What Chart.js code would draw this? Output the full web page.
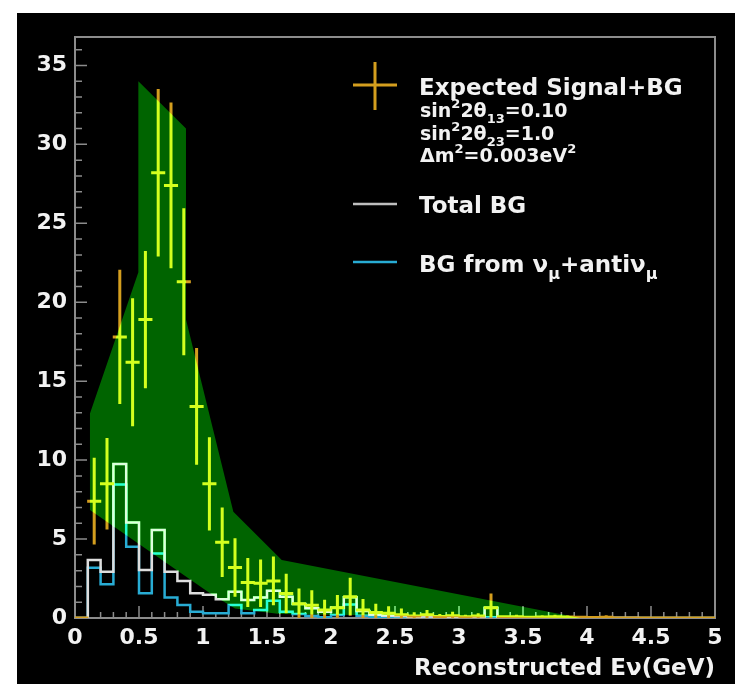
<!DOCTYPE html>
<html>
<head>
<meta charset="utf-8">
<script src="https://cdn.jsdelivr.net/npm/chart.js@4.4.1/dist/chart.umd.min.js"></script>
<style>
  html, body { margin: 0; background: #fff; }
</style>
</head>
<body>
<canvas id="spectrum" width="742" height="684"></canvas>
<script>
// bins of 0.1 GeV from 0 to 5 GeV
const BIN_WIDTH = 0.1;
const X_MAX = 5;
const Y_MAX = 36.8;

// Expected signal + BG (points with error bars), one value per bin
const signal = [0, 7.4, 8.5, 17.8, 16.2, 18.9, 28.2, 27.4, 21.3, 13.4,
  8.5, 4.8, 3.2, 2.25, 2.2, 2.35, 1.55, 0.9, 0.8, 0.5,
  0.65, 1.35, 0.5, 0.35, 0.3, 0.2, 0.12, 0.2, 0.1, 0.15,
  0.08, 0.12, 0.65, 0.08, 0.08, 0.05, 0.06, 0.08, 0.06, 0.05,
  0.03, 0.05, 0, 0, 0, 0, 0, 0, 0, 0];
const signalErr = [0, 2.75, 2.9, 4.25, 4.05, 4.35, 5.3, 5.25, 4.65, 3.7,
  2.95, 2.2, 1.85, 1.55, 1.5, 1.55, 1.25, 0.97, 0.95, 0.65,
  0.8, 1.2, 0.7, 0.55, 0.45, 0.4, 0.25, 0.3, 0.15, 0.25,
  0.12, 0.18, 0.9, 0.1, 0.12, 0.1, 0.12, 0.12, 0.12, 0.1,
  0.06, 0.12, 0, 0, 0, 0, 0, 0, 0, 0];

// Total BG histogram
const totalBG = [0, 3.67, 2.93, 9.75, 6.05, 3.04, 5.57, 2.93, 2.34, 1.56,
  1.48, 1.18, 1.67, 1.14, 1.3, 1.73, 1.35, 0.89, 0.61, 0.4,
  0.65, 1.31, 0.44, 0.2, 0.15, 0.12, 0.08, 0.1, 0.06, 0.08,
  0.05, 0.06, 0.65, 0.04, 0.04, 0.03, 0.03, 0.02, 0.02, 0.02,
  0.01, 0.01, 0.01, 0.01, 0, 0, 0, 0, 0, 0];

// BG from numu + anti-numu histogram
const numuBG = [0, 3.18, 2.13, 8.46, 4.51, 1.56, 4.09, 1.3, 0.82, 0.4,
  0.3, 0.3, 0.83, 0.3, 0.5, 1.1, 0.4, 0.25, 0.13, 0.05,
  0.19, 0.86, 0.15, 0.04, 0.03, 0.03, 0.02, 0.02, 0.02, 0.02,
  0.01, 0.01, 0.05, 0.01, 0.01, 0.01, 0, 0, 0, 0,
  0, 0, 0, 0, 0, 0, 0, 0, 0, 0];

// green uncertainty band outline (closed polygon)
const bandX = [0.117, 0.495, 0.495, 0.867, 0.867, 1.237, 1.615, 3.95, 1.6, 1.25, 1.055, 0.117, 0.117];
const bandY = [12.95, 21.9, 34.0, 31.0, 18.9, 6.73, 3.67, 0, 0.25, 0.6, 1.56, 6.84, 12.95];

const BAND_GREEN = 'rgb(0,100,0)';
const GOLD = 'rgb(212,158,30)';
const WHITE_LINE = 'rgb(222,222,222)';
const CYAN = 'rgb(40,172,212)';
const FRAME = 'rgb(140,140,140)';
const TEXT = '#f2f2f2';
const FONT = '"DejaVu Sans", sans-serif';

// error bar segments, separated by gaps
const barPts = [];
signal.forEach((v, i) => {
  const c = (i + 0.5) * BIN_WIDTH;
  const e = signalErr[i];
  if (e > 0) barPts.push({x: c, y: v - e}, {x: c, y: v + e}, {x: c, y: null});
  barPts.push({x: c - 0.055, y: v}, {x: c + 0.055, y: v}, {x: c, y: null});
});

function histPoints(vals) {
  const pts = vals.map((v, i) => ({x: i * BIN_WIDTH, y: v}));
  pts.push({x: X_MAX, y: vals[vals.length - 1]});
  return pts;
}

const bandPts = bandX.map((x, i) => ({x: x, y: bandY[i]}));

const pagePlugin = {
  id: 'page',
  beforeDraw(chart) {
    const ctx = chart.ctx;
    ctx.save();
    ctx.fillStyle = '#fff';
    ctx.fillRect(0, 0, chart.width, chart.height);
    ctx.fillStyle = '#000';
    ctx.fillRect(17, 13, 718, chart.height - 13);
    ctx.restore();
  },
  beforeDatasetsDraw(chart) {
    const ctx = chart.ctx, a = chart.chartArea;
    const xs = chart.scales.x, ys = chart.scales.y;
    ctx.save();
    ctx.strokeStyle = FRAME;
    ctx.lineWidth = 2;
    ctx.strokeRect(a.left, a.top, a.right - a.left, a.bottom - a.top);
    ctx.lineWidth = 1.5;
    ctx.beginPath();
    for (let k = 0; k <= 50; k++) {
      const px = xs.getPixelForValue(k * 0.1);
      ctx.moveTo(px, a.bottom);
      ctx.lineTo(px, a.bottom - (k % 5 === 0 ? 12 : 6));
    }
    for (let k = 0; k <= Math.floor(Y_MAX); k++) {
      const py = ys.getPixelForValue(k);
      ctx.moveTo(a.left, py);
      ctx.lineTo(a.left + (k % 5 === 0 ? 12 : 7), py);
    }
    ctx.stroke();
    ctx.restore();
  },
  // the band is laid on top additively
  afterDatasetDraw(chart, args) {
    if (args.index === 1) {
      chart.ctx.save();
      chart.ctx.globalCompositeOperation = 'lighter';
    }
    if (args.index === 0) chart.ctx.restore();
  },
  afterDraw(chart) {
    const ctx = chart.ctx;
    ctx.save();
    ctx.lineCap = 'butt';
    ctx.strokeStyle = GOLD;
    ctx.lineWidth = 3;
    ctx.beginPath();
    ctx.moveTo(353, 85); ctx.lineTo(397, 85);
    ctx.moveTo(375, 62); ctx.lineTo(375, 110);
    ctx.stroke();
    ctx.lineWidth = 2.5;
    ctx.strokeStyle = 'rgb(190,190,190)';
    ctx.beginPath(); ctx.moveTo(353, 204); ctx.lineTo(397, 204); ctx.stroke();
    ctx.strokeStyle = CYAN;
    ctx.beginPath(); ctx.moveTo(353, 262); ctx.lineTo(397, 262); ctx.stroke();

    ctx.fillStyle = TEXT;
    ctx.textBaseline = 'alphabetic';
    ctx.textAlign = 'left';
    const rich = (x, y, size, parts) => {
      parts.forEach(p => {
        const small = p.sub || p.sup;
        const s = small ? Math.round(size * 0.68) : size;
        ctx.font = 'bold ' + s + 'px ' + FONT;
        const dy = p.sup ? -size * 0.45 : (p.sub ? size * 0.32 : 0);
        ctx.fillText(p.t, x, y + dy);
        x += ctx.measureText(p.t).width;
      });
    };
    rich(419, 95, 23, [{t: 'Expected Signal+BG'}]);
    rich(420, 117, 19, [{t: 'sin'}, {t: '2', sup: true}, {t: '2θ'}, {t: '13', sub: true}, {t: '=0.10'}]);
    rich(420, 140, 19, [{t: 'sin'}, {t: '2', sup: true}, {t: '2θ'}, {t: '23', sub: true}, {t: '=1.0'}]);
    rich(420, 162, 19, [{t: 'Δm'}, {t: '2', sup: true}, {t: '=0.003eV'}, {t: '2', sup: true}]);
    rich(419, 213, 23, [{t: 'Total BG'}]);
    rich(419, 272, 23, [{t: 'BG from ν'}, {t: 'μ', sub: true}, {t: '+antiν'}, {t: 'μ', sub: true}]);
    ctx.restore();
  }
};

new Chart(document.getElementById('spectrum'), {
  type: 'scatter',
  data: {
    datasets: [
      {
        label: 'band',
        data: bandPts,
        showLine: true,
        fill: 'shape',
        backgroundColor: BAND_GREEN,
        borderWidth: 0,
        pointRadius: 0,
        order: 0
      },
      {
        label: 'Expected Signal+BG',
        data: barPts,
        showLine: true,
        borderColor: GOLD,
        borderWidth: 3,
        borderCapStyle: 'butt',
        pointRadius: 0,
        spanGaps: false,
        order: 1
      },
      {
        label: 'Total BG',
        data: histPoints(totalBG),
        showLine: true,
        stepped: true,
        borderColor: WHITE_LINE,
        borderWidth: 2.5,
        pointRadius: 0,
        order: 2
      },
      {
        label: 'BG from numu+antinumu',
        data: histPoints(numuBG),
        showLine: true,
        stepped: true,
        borderColor: CYAN,
        borderWidth: 2.5,
        pointRadius: 0,
        order: 3
      }
    ]
  },
  options: {
    responsive: false,
    animation: false,
    events: [],
    layout: {padding: {left: 0, right: 27, top: 37, bottom: 0}},
    plugins: {legend: {display: false}, tooltip: {enabled: false}},
    scales: {
      x: {
        type: 'linear',
        min: 0,
        max: X_MAX,
        grid: {display: false, drawTicks: false},
        border: {display: false},
        ticks: {
          stepSize: 0.5,
          includeBounds: false,
          maxRotation: 0,
          padding: 7,
          color: TEXT,
          font: {family: FONT, size: 22, weight: 'bold'},
          callback: v => String(Math.round(v * 10) / 10)
        },
        title: {
          display: true,
          text: 'Reconstructed Eν(GeV)',
          align: 'end',
          color: TEXT,
          padding: 0,
          font: {family: FONT, size: 23, weight: 'bold', lineHeight: 1.3}
        },
        afterFit: s => { s.height = 66; }
      },
      y: {
        type: 'linear',
        min: 0,
        max: Y_MAX,
        grid: {display: false, drawTicks: false},
        border: {display: false},
        ticks: {
          stepSize: 5,
          includeBounds: false,
          padding: 8,
          color: TEXT,
          font: {family: FONT, size: 22, weight: 'bold'}
        },
        afterFit: s => { s.width = 75; }
      }
    }
  },
  plugins: [pagePlugin]
});
</script>
</body>
</html>
